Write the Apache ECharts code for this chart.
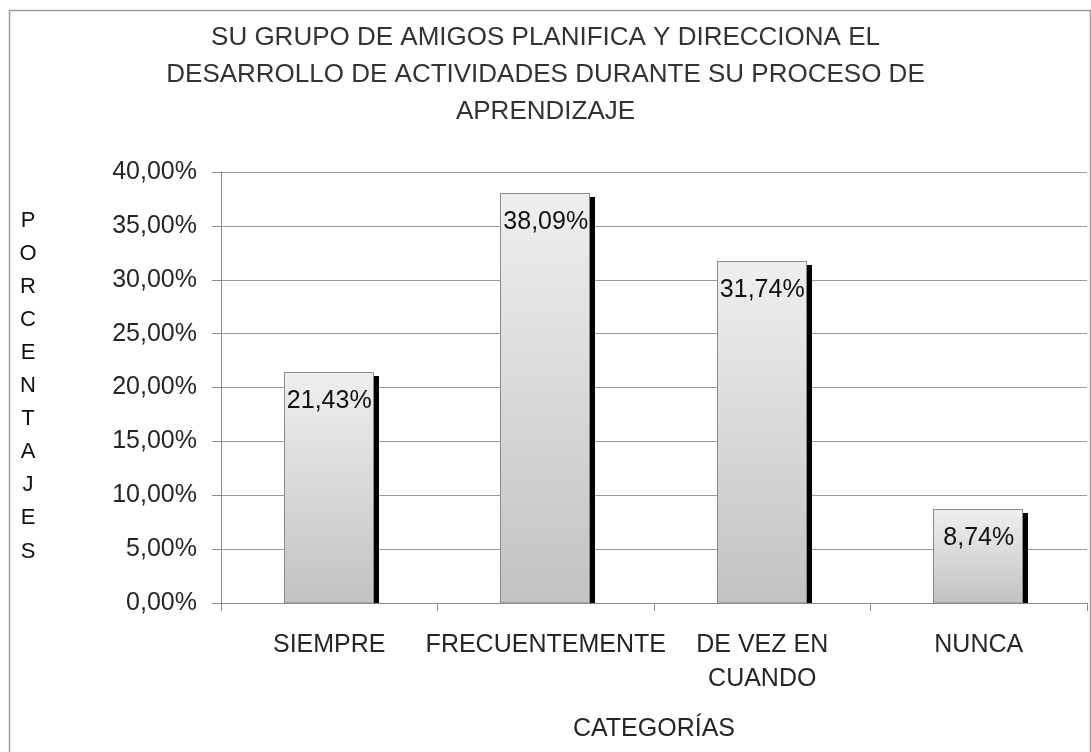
<!DOCTYPE html>
<html>
<head>
<meta charset="utf-8">
<script src="https://cdn.jsdelivr.net/npm/echarts@6/dist/echarts.min.js"></script>
<style>
html,body{margin:0;padding:0;background:#fff;}
#chart{width:1091px;height:752px;}
</style>
</head>
<body>
<div id="chart"></div>
<script>
const titleText = 'SU GRUPO DE AMIGOS PLANIFICA Y DIRECCIONA EL\nDESARROLLO DE ACTIVIDADES DURANTE SU PROCESO DE\nAPRENDIZAJE';
const categories = ['SIEMPRE', 'FRECUENTEMENTE', 'DE VEZ EN\nCUANDO', 'NUNCA'];
const values = [21.43, 38.09, 31.74, 8.74];
const yAxisName = 'PORCENTAJES';
const xAxisName = 'CATEGORÍAS';

const FONT = '"Liberation Sans", Arial, sans-serif';
const fmt = v => v.toFixed(2).replace('.', ',') + '%';

const chart = echarts.init(document.getElementById('chart'));

const option = {
  animation: false,
  backgroundColor: '#fff',
  title: {
    text: titleText,
    left: 'center',
    top: 14,
    textStyle: { fontFamily: FONT, fontSize: 26, fontWeight: 'normal', color: '#333', lineHeight: 37 }
  },
  grid: { left: 221, right: 4, top: 172, bottom: 149 },
  xAxis: {
    type: 'category',
    data: categories,
    name: xAxisName,
    nameLocation: 'middle',
    nameGap: 114,
    nameTextStyle: { fontFamily: FONT, fontSize: 25, color: '#262626', verticalAlign: 'top' },
    axisLine: { lineStyle: { color: '#8c8c8c', width: 1 } },
    axisTick: { show: true, length: 8, alignWithLabel: false, lineStyle: { color: '#8c8c8c' } },
    axisLabel: { fontFamily: FONT, fontSize: 25, color: '#262626', margin: 25, lineHeight: 34, interval: 0 }
  },
  yAxis: {
    type: 'value',
    min: 0, max: 40, interval: 5,
    axisLine: { show: true, lineStyle: { color: '#8c8c8c', width: 1 } },
    axisTick: { show: true, length: 9, lineStyle: { color: '#8c8c8c' } },
    splitLine: { show: true, lineStyle: { color: '#999', width: 1 } },
    axisLabel: { fontFamily: FONT, fontSize: 25, color: '#262626', margin: 24, formatter: v => fmt(v) }
  },
  graphic: [
    {
      type: 'rect', left: 7, top: 8, z: -10,
      shape: { width: 1081, height: 743 },
      style: { fill: 'none', stroke: '#9a9a9a', lineWidth: 1.5 }
    },
    {
      type: 'text', z: 10,
      x: 28, y: 386,
      style: {
        text: yAxisName.split('').join('\n'),
        font: '22px ' + FONT, fill: '#111', align: 'center', verticalAlign: 'middle', lineHeight: 33.1
      }
    }
  ],
  series: [{
    type: 'custom',
    data: values.map((v, i) => [i, v]),
    encode: { x: 0, y: 1 },
    renderItem: function (params, api) {
      const idx = api.value(0), val = api.value(1);
      const top = api.coord([idx, val]);
      const base = api.coord([idx, 0]);
      const band = api.size([1, 0])[0];
      const w = Math.round(band * 0.41);
      const x = Math.round(top[0] - w / 2) - 1;
      const y = Math.round(top[1]);
      const h = Math.round(base[1]) - y;
      return {
        type: 'group',
        children: [
          { type: 'rect', shape: { x: x + 6, y: y + 4, width: w, height: h - 4 }, style: { fill: '#000' } },
          {
            type: 'rect', shape: { x: x + 0.5, y: y + 0.5, width: w, height: h - 0.5 },
            style: {
              fill: new echarts.graphic.LinearGradient(0, 0, 0, 1, [
                { offset: 0, color: '#efefef' }, { offset: 1, color: '#c2c2c2' }
              ]),
              stroke: '#8a8a8a', lineWidth: 1
            }
          },
          {
            type: 'text',
            style: {
              text: fmt(val), x: top[0], y: y + 17, align: 'center', verticalAlign: 'top',
              font: '25px ' + FONT, fill: '#111'
            }
          }
        ]
      };
    }
  }]
};
chart.setOption(option);
</script>
</body>
</html>
